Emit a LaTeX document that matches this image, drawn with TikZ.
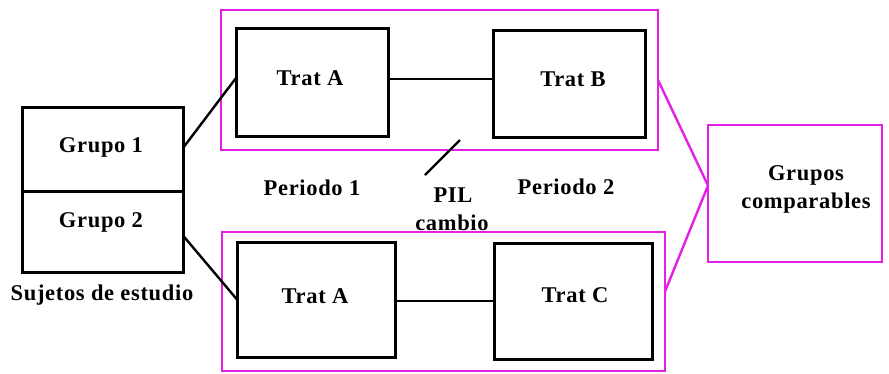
\documentclass[tikz,border=0pt]{standalone}
\usepackage{fontspec}
\setmainfont{Liberation Serif}[LetterSpace=3]
\definecolor{mag}{RGB}{228,32,228}
\begin{document}
\begin{tikzpicture}[x=1pt,y=-1pt,
  every node/.style={inner sep=0pt,outer sep=0pt},
  txt/.style={font=\bfseries\fontsize{22.5}{26}\selectfont,align=center},
  box/.style={draw=black,line width=3pt},
  frame/.style={draw=mag,line width=2.8pt},
  link/.style={draw=black,line width=2.4pt},
  mlink/.style={draw=mag,line width=2.4pt}]
\useasboundingbox (0,0) rectangle (889,373);

% subjects, split into two groups
\node[box,minimum width=161pt,minimum height=84pt] (g1) at (102.5,149) {};
\node[box,minimum width=161pt,minimum height=81pt] (g2) at (102.5,231.5) {};
\node[txt] (g1t) at (101,147) {Grupo 1};
\node[txt] (g2t) at (101,222) {Grupo 2};
\node[txt] (suj) at (102,295) {Sujetos de estudio};

% period frames
\node[frame,minimum width=437pt,minimum height=140pt] (top) at (439.5,80) {};
\node[frame,minimum width=443pt,minimum height=139pt] (bot) at (443.5,301.5) {};

% treatments
\node[box,minimum width=152pt,minimum height=108pt] (ta1) at (312,82) {};
\node[box,minimum width=152pt,minimum height=107pt] (tb) at (569,83.5) {};
\node[box,minimum width=158pt,minimum height=115pt] (ta2) at (316,299.5) {};
\node[box,minimum width=158pt,minimum height=116pt] (tc) at (573,301) {};
\node[txt] (ta1t) at (310,78) {Trat A};
\node[txt] (tbt) at (573,79) {Trat B};
\node[txt] (ta2t) at (315,296) {Trat A};
\node[txt] (tct) at (575,295) {Trat C};

% comparable groups
\node[frame,minimum width=174pt,minimum height=137pt] (gc) at (795,193.5) {};
\node[txt] (gct) at (806,189) {Grupos\\[2pt]comparables};

% period labels and washout
\node[txt] (p1) at (312,188) {Periodo 1};
\node[txt] (p2) at (566,187) {Periodo 2};
\node[txt] (pil) at (453,195) {PIL};
\node[txt] (cam) at (452,223) {cambio};
\coordinate (s1) at (425,175);
\coordinate (s2) at (460,140);
\draw[link] (s1) -- (s2);

% connectors
\draw[link] ([yshift=1pt]g1.east) -- ([yshift=4pt]ta1.west);
\draw[link] ([yshift=-4pt]g2.east) -- (ta2.west);
\coordinate (ab) at ([yshift=3pt]ta1.east);
\draw[link] (ab) -- (ab -| tb.west);
\coordinate (ac) at ([yshift=-1.5pt]ta2.east);
\draw[link] (ac) -- (ac -| tc.west);
\coordinate (apex) at ([yshift=8pt]gc.west);
\draw[mlink] (top.east) -- (apex) -- ([yshift=10pt]bot.east);
\end{tikzpicture}
\end{document}
